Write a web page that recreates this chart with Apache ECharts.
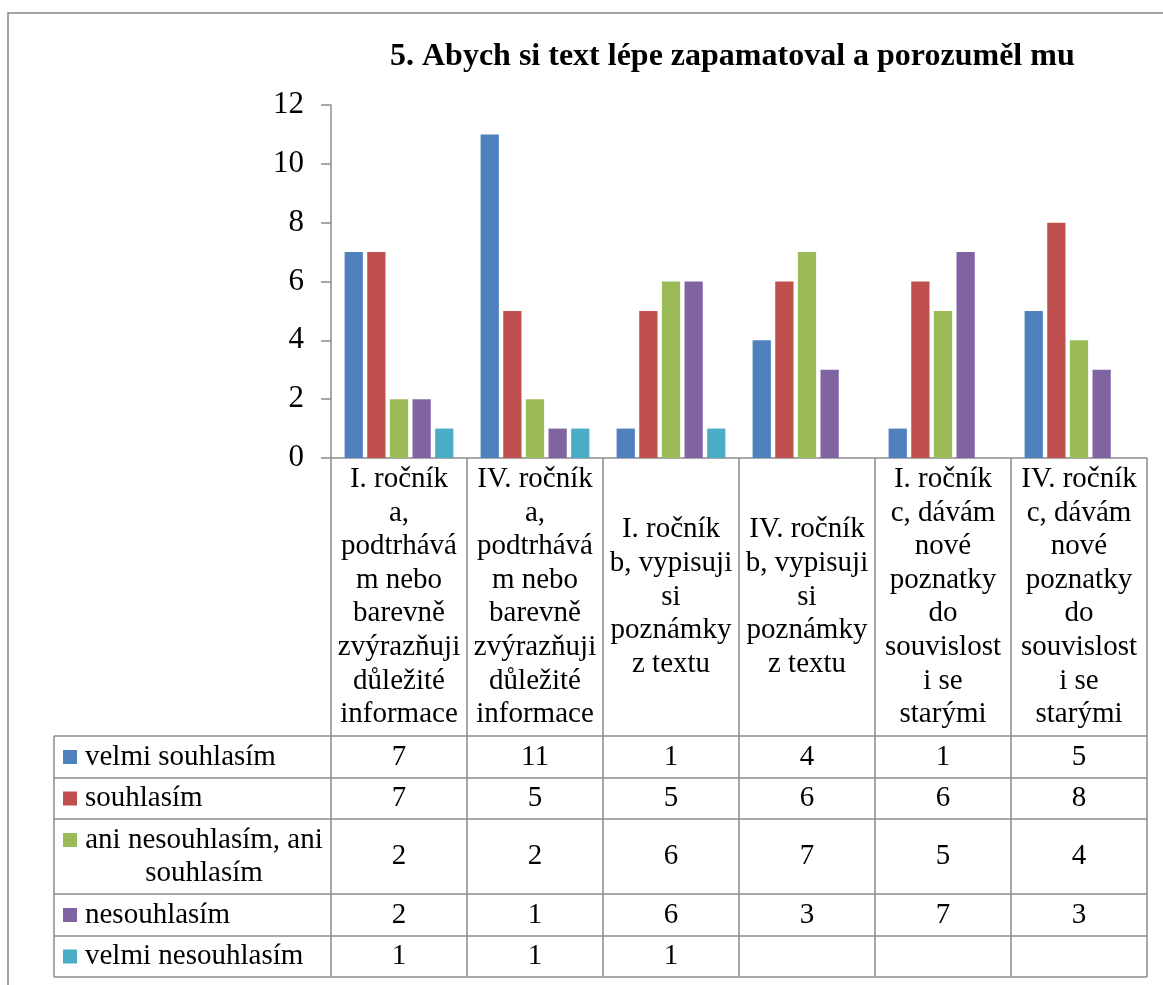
<!DOCTYPE html>
<html>
<head>
<meta charset="utf-8">
<script src="https://cdn.jsdelivr.net/npm/echarts@6/dist/echarts.min.js"></script>
<style>
  html, body { margin: 0; padding: 0; background: #fff; }
  #chart { width: 1163px; height: 985px; }
</style>
</head>
<body>
<div id="chart"></div>
<script>
// categories (wrapped as in the original table header)
const categories = [
    'I. ročník\na,\npodtrhává\nm nebo\nbarevně\nzvýrazňuji\ndůležité\ninformace',
    'IV. ročník\na,\npodtrhává\nm nebo\nbarevně\nzvýrazňuji\ndůležité\ninformace',
    'I. ročník\nb, vypisuji\nsi\npoznámky\nz textu',
    'IV. ročník\nb, vypisuji\nsi\npoznámky\nz textu',
    'I. ročník\nc, dávám\nnové\npoznatky\ndo\nsouvislost\ni se\nstarými',
    'IV. ročník\nc, dávám\nnové\npoznatky\ndo\nsouvislost\ni se\nstarými'
];

const seriesNames = [
    'velmi souhlasím',
    'souhlasím',
    'ani nesouhlasím, ani souhlasím',
    'nesouhlasím',
    'velmi nesouhlasím'
];

const velmiSouhlasim = [7, 11, 1, 4, 1, 5];
const souhlasim = [7, 5, 5, 6, 6, 8];
const aniAni = [2, 2, 6, 7, 5, 4];
const nesouhlasim = [2, 1, 6, 3, 7, 3];
const velmiNesouhlasim = [1, 1, 1, null, null, null];

const seriesValues = [velmiSouhlasim, souhlasim, aniAni, nesouhlasim, velmiNesouhlasim];
const colors = ['#4F81BD', '#C0504D', '#9BBB59', '#8064A2', '#4BACC6'];

// legend text that wraps onto two lines in the table
const wrappedNames = { 'ani nesouhlasím, ani souhlasím': ['ani nesouhlasím, ani', 'souhlasím'] };

// layout
const serif = '"Liberation Serif", "Times New Roman", serif';
const gridLeft = 331, gridRight = 1147, gridTop = 105, gridBottom = 458;
const tableLeft = 54;
const rowLines = [736, 778, 819, 894, 936, 977];
const lineGray = '#8c8c8c';
const lh = 33;

const chart = echarts.init(document.getElementById('chart'));

// one hidden axis per table row, its labels hold the row values
const valueAxes = seriesValues.map((vals, i) => ({
    type: 'category',
    gridIndex: 0,
    position: 'bottom',
    data: categories,
    offset: (rowLines[i] + rowLines[i + 1]) / 2 - gridBottom,
    axisLine: { show: false },
    axisTick: { show: false },
    axisLabel: {
        interval: 0,
        margin: 0,
        verticalAlign: 'middle',
        fontSize: 29,
        fontFamily: serif,
        color: '#000',
        formatter: (v, idx) => vals[idx] == null ? '' : String(vals[idx])
    }
}));

// one legend per table row, so the keys sit in their rows
const legends = seriesNames.map((name, i) => {
    const top = rowLines[i], bottom = rowLines[i + 1];
    const wrapped = wrappedNames[name];
    return {
        data: [name],
        left: 63,
        top: wrapped ? top + 21 - lh - lh / 2 : (top + bottom) / 2 - lh / 2,
        padding: 0,
        icon: 'rect',
        itemWidth: 14,
        itemHeight: 14,
        selectedMode: false,
        formatter: wrapped ? () => '\n' + wrapped.map(t => '{c|' + t + '}').join('\n') : undefined,
        textStyle: {
            fontSize: 29,
            fontFamily: serif,
            color: '#000',
            lineHeight: lh,
            padding: [0, 0, 0, 3],
            rich: {
                c: { width: 238, align: 'center', fontSize: 29, fontFamily: serif, color: '#000', lineHeight: lh }
            }
        }
    };
});

const tableLines = rowLines.map(y => ({
    type: 'line',
    shape: { x1: tableLeft, y1: y, x2: gridRight, y2: y },
    style: { stroke: lineGray, lineWidth: 1.5 }
}));
tableLines.push({
    type: 'line',
    shape: { x1: tableLeft, y1: rowLines[0], x2: tableLeft, y2: rowLines[rowLines.length - 1] },
    style: { stroke: lineGray, lineWidth: 1.5 }
});

const option = {
    backgroundColor: '#fff',
    animation: false,
    color: colors,
    title: {
        text: '5. Abych si text lépe zapamatoval a porozuměl mu',
        left: 390,
        top: 41,
        padding: 0,
        textStyle: { fontSize: 32, fontWeight: 'bold', fontFamily: serif, color: '#000' }
    },
    legend: legends,
    grid: {
        left: gridLeft,
        right: 1163 - gridRight,
        top: gridTop,
        bottom: 985 - gridBottom,
        containLabel: false
    },
    xAxis: [
        {
            type: 'category',
            data: categories,
            axisLine: { lineStyle: { color: lineGray, width: 1.5 } },
            axisTick: {
                show: true,
                interval: 0,
                length: rowLines[rowLines.length - 1] - gridBottom,
                lineStyle: { color: lineGray, width: 1.5 }
            },
            axisLabel: {
                interval: 0,
                margin: (gridBottom + rowLines[0]) / 2 - gridBottom,
                verticalAlign: 'middle',
                fontSize: 29,
                lineHeight: 33.6,
                fontFamily: serif,
                color: '#000'
            }
        }
    ].concat(valueAxes),
    yAxis: {
        type: 'value',
        min: 0,
        max: 12,
        interval: 2,
        axisLine: { show: true, lineStyle: { color: lineGray, width: 1.5 } },
        axisTick: { show: true, length: 10, lineStyle: { color: lineGray, width: 1.5 } },
        splitLine: { show: false },
        axisLabel: { fontSize: 31, fontFamily: serif, color: '#000', margin: 27 }
    },
    series: seriesNames.map((name, i) => ({
        name: name,
        type: 'bar',
        xAxisIndex: 0,
        data: seriesValues[i],
        barCategoryGap: '20%',
        barGap: '24%',
        itemStyle: { color: colors[i] }
    })),
    graphic: [
        {
            type: 'rect',
            shape: { x: 8, y: 13, width: 1300, height: 1200 },
            style: { fill: 'none', stroke: '#868686', lineWidth: 1.5 }
        }
    ].concat(tableLines)
};

chart.setOption(option);
window.addEventListener('resize', () => chart.resize());
</script>
</body>
</html>
